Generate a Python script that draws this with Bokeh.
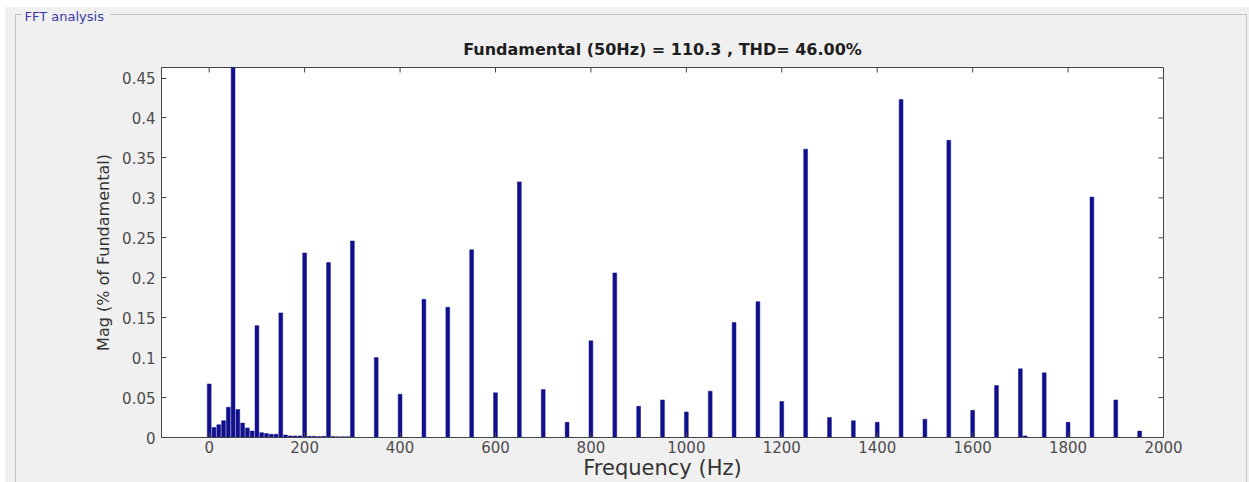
from bokeh.plotting import figure
from bokeh.models import Range1d, FixedTicker, Title
from bokeh.embed import file_html
from bokeh.resources import INLINE

# Frequencies (Hz) and magnitudes (% of fundamental)
freqs = [0, 10, 20, 30, 40, 50, 60, 70, 80, 90,
         100, 110, 120, 130, 140, 150, 160, 170, 180, 190,
         200, 210, 220, 230, 240, 250, 260, 270, 280, 290,
         300, 350, 400, 450, 500, 550, 600, 650, 700, 750,
         800, 850, 900, 950, 1000, 1050, 1100, 1150, 1200, 1250,
         1300, 1350, 1400, 1450, 1500, 1550, 1600, 1650, 1700, 1710,
         1750, 1800, 1850, 1900, 1950]
mags = [0.067, 0.0125, 0.016, 0.021, 0.038, 1.0, 0.035, 0.018, 0.012, 0.008,
        0.140, 0.006, 0.005, 0.004, 0.004, 0.156, 0.003, 0.002, 0.002, 0.002,
        0.231, 0.0015, 0.0015, 0.0012, 0.0015, 0.219, 0.0012, 0.001, 0.001, 0.001,
        0.246, 0.100, 0.054, 0.173, 0.163, 0.235, 0.056, 0.320, 0.060, 0.019,
        0.121, 0.206, 0.039, 0.047, 0.032, 0.058, 0.144, 0.170, 0.045, 0.361,
        0.025, 0.021, 0.019, 0.423, 0.023, 0.372, 0.034, 0.065, 0.086, 0.002,
        0.081, 0.019, 0.301, 0.047, 0.008]

x_ticks = [0, 200, 400, 600, 800, 1000, 1200, 1400, 1600, 1800, 2000]
y_ticks = [0, 0.05, 0.1, 0.15, 0.2, 0.25, 0.3, 0.35, 0.4, 0.45]
y_labels = {0: "0", 0.05: "0.05", 0.1: "0.1", 0.15: "0.15", 0.2: "0.2",
            0.25: "0.25", 0.3: "0.3", 0.35: "0.35", 0.4: "0.4", 0.45: "0.45"}
title_text = "Fundamental (50Hz) = 110.3 , THD= 46.00%"
x_label = "Frequency (Hz)"
y_label = "Mag (% of Fundamental)"
panel_text = "FFT analysis"

FONT = "DejaVu Sans"
GREY_BG = "#F0F0F0"
BOX_COL = "#C4C4C4"
AX_COL = "#444444"
LBL_COL = "#4D4D4D"

X0, X1 = -100, 2000
Y0, Y1 = 0, 0.4632
W, H = 1249, 482
ML, MR, MT, MB = 161, 86, 67, 44
fw, fh = W - ML - MR, H - MT - MB
ppx = fw / (X1 - X0)      # pixels per Hz
ppy = fh / (Y1 - Y0)      # pixels per unit


def grad(c):
    return f"linear-gradient({c}, {c})"


# panel background: grey panel with a light group-box outline, drawn behind the canvas
bg_layers = [
    (grad(BOX_COL), "15px 14px", "1px 600px"),      # left edge of group box
    (grad(BOX_COL), "1246px 14px", "1px 600px"),    # right edge
    (grad(BOX_COL), "15px 14px", "7px 1px"),        # top edge, before the caption
    (grad(BOX_COL), "110px 14px", "1136px 1px"),    # top edge, after the caption
    (grad(GREY_BG), "5px 7px", "2000px 1000px"),    # grey panel
]
styles = {
    "background-color": "white",
    "background-image": ", ".join(l[0] for l in bg_layers),
    "background-position": ", ".join(l[1] for l in bg_layers),
    "background-size": ", ".join(l[2] for l in bg_layers),
    "background-repeat": "no-repeat",
}

p = figure(width=W, height=H, output_backend="svg", toolbar_location=None,
           x_range=Range1d(X0, X1), y_range=Range1d(Y0, Y1),
           min_border_left=ML, min_border_right=MR, min_border_top=MT,
           min_border_bottom=MB, styles=styles)
p.border_fill_alpha = 0
p.background_fill_color = "white"
p.outline_line_color = AX_COL
p.outline_line_width = 1
p.xgrid.visible = False
p.ygrid.visible = False

# outer title: the panel caption
p.title.text = panel_text
p.title.align = "left"
p.title.offset = -137
p.title.text_font = FONT
p.title.text_font_size = "13px"
p.title.text_font_style = "normal"
p.title.text_color = "#3A3AA6"
p.title.standoff = 12

# inner title: the chart heading
p.add_layout(Title(text=title_text, align="center", text_font=FONT,
                   text_font_size="16px", text_font_style="bold",
                   text_color="#1E1E1E", standoff=17), "above")

p.vbar(x=freqs, top=mags, width=8, bottom=0, fill_color="#10108C",
       line_color="#10108C", line_width=0.5)

for ax in (p.xaxis[0], p.yaxis[0]):
    ax.major_tick_in = 5
    ax.major_tick_out = 0
    ax.minor_tick_in = 0
    ax.minor_tick_out = 0
    ax.axis_line_color = AX_COL
    ax.major_tick_line_color = AX_COL
    ax.major_label_text_font = FONT
    ax.major_label_text_font_size = "15px"
    ax.major_label_text_color = LBL_COL
    ax.axis_label_text_font = FONT
    ax.axis_label_text_font_style = "normal"
    ax.axis_label_text_color = "#333333"

p.xaxis[0].ticker = FixedTicker(ticks=x_ticks)
p.xaxis[0].major_label_standoff = 3
p.xaxis[0].axis_label = x_label
p.xaxis[0].axis_label_standoff = 0
p.xaxis[0].axis_label_text_font_size = "21px"
p.yaxis[0].ticker = FixedTicker(ticks=y_ticks)
p.yaxis[0].major_label_overrides = y_labels
p.yaxis[0].major_label_standoff = 6
p.yaxis[0].axis_label = y_label
p.yaxis[0].axis_label_standoff = 6
p.yaxis[0].axis_label_text_font_size = "16px"

# inward ticks on the top and right edges of the box
tick_len_y = 5 / ppy
tick_len_x = 5 / ppx
p.segment(x0=x_ticks, y0=[Y1] * len(x_ticks), x1=x_ticks,
          y1=[Y1 - tick_len_y] * len(x_ticks), line_color=AX_COL, line_width=1)
p.segment(x0=[X1] * len(y_ticks), y0=y_ticks, x1=[X1 - tick_len_x] * len(y_ticks),
          y1=y_ticks, line_color=AX_COL, line_width=1)

open("out.html", "w").write(file_html(p, INLINE))
